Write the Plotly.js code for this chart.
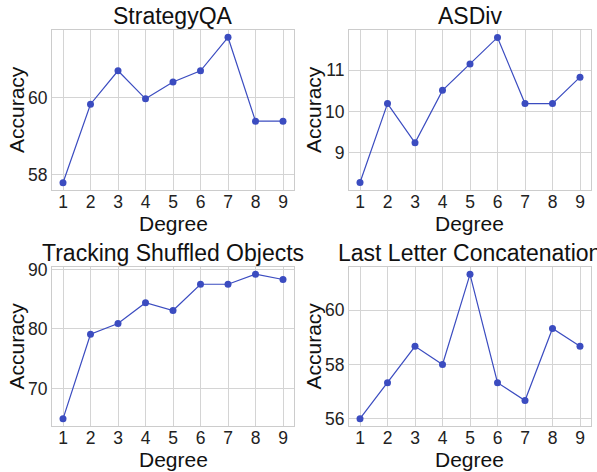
<!DOCTYPE html>
<html>
<head>
<meta charset="utf-8">
<script src="https://cdn.plot.ly/plotly-3.0.1.min.js"></script>
<style>
  html, body { margin: 0; padding: 0; background: #fff; }
  #chart { width: 597px; height: 472px; }
</style>
</head>
<body>
<div id="chart"></div>
<script>
// data
const degrees = [1, 2, 3, 4, 5, 6, 7, 8, 9];
const strategyQA = [57.79, 59.83, 60.70, 59.97, 60.41, 60.70, 61.57, 59.39, 59.39];
const asdiv = [8.28, 10.19, 9.24, 10.51, 11.15, 11.79, 10.19, 10.19, 10.83];
const tracking = [64.9, 79.1, 80.9, 84.4, 83.1, 87.5, 87.5, 89.2, 88.3];
const lastLetter = [56.0, 57.33, 58.67, 58.0, 61.33, 57.33, 56.67, 59.33, 58.67];
const panelTitles = ['StrategyQA', 'ASDiv', 'Tracking Shuffled Objects', 'Last Letter Concatenation'];
const xLabel = 'Degree';
const yLabel = 'Accuracy';

const seriesList = [strategyQA, asdiv, tracking, lastLetter];
const lineColor = '#3b4cc0';
const fontFamily = '"Liberation Sans", Arial, sans-serif';

// panel boxes in paper fractions
const W = 597, H = 472;
const xDomains = [[52 / W, 294 / W], [349 / W, 591 / W]];
const yDomains = [[(H - 190) / H, (H - 30) / H], [(H - 426) / H, (H - 267) / H]];
const yRanges = [[57.60, 61.76], [8.10, 11.97], [63.7, 90.4], [55.73, 61.6]];
const yDticks = [2, 1, 10, 2];

const traces = [];
const annotations = [];
const layout = {
    width: W, height: H,
    margin: { t: 0, b: 0, l: 0, r: 0 },
    paper_bgcolor: '#fff',
    plot_bgcolor: '#fff',
    showlegend: false,
    font: { family: fontFamily, color: '#222', size: 17.5 }
};

seriesList.forEach((vals, i) => {
    const n = i + 1;
    const col = i % 2, row = Math.floor(i / 2);
    const xa = 'xaxis' + (n === 1 ? '' : n);
    const ya = 'yaxis' + (n === 1 ? '' : n);
    traces.push({
        x: degrees, y: vals,
        xaxis: 'x' + (n === 1 ? '' : n), yaxis: 'y' + (n === 1 ? '' : n),
        type: 'scatter', mode: 'lines+markers',
        line: { color: lineColor, width: 1.2 },
        marker: { color: lineColor, size: 7 }
    });
    const axisCommon = {
        showline: true, mirror: true, linecolor: '#cccccc', linewidth: 1,
        showgrid: true, gridcolor: '#d4d4d4', gridwidth: 1,
        zeroline: false, ticks: '', fixedrange: true,
        tickfont: { size: 17.5, color: '#222' }
    };
    layout[xa] = Object.assign({}, axisCommon, {
        domain: xDomains[col], anchor: 'y' + (n === 1 ? '' : n),
        range: [0.6, 9.4], tickmode: 'linear', tick0: 1, dtick: 1,
        ticklabelstandoff: -4
    });
    layout[ya] = Object.assign({}, axisCommon, {
        domain: yDomains[row], anchor: 'x' + (n === 1 ? '' : n),
        range: yRanges[i], tickmode: 'linear', tick0: 0, dtick: yDticks[i],
        ticklabelstandoff: 0
    });
    const xCenter = (xDomains[col][0] + xDomains[col][1]) / 2;
    const yCenter = (yDomains[row][0] + yDomains[row][1]) / 2;
    // subplot title
    annotations.push({
        text: panelTitles[i], xref: 'paper', yref: 'paper',
        x: xCenter, y: yDomains[row][1], xanchor: 'center', yanchor: 'bottom',
        yshift: -1, showarrow: false, font: { size: 23, color: '#111' }
    });
    // x axis label
    annotations.push({
        text: xLabel, xref: 'paper', yref: 'paper',
        x: xCenter, y: yDomains[row][0], xanchor: 'center', yanchor: 'top',
        yshift: -20, showarrow: false, font: { size: 21, color: '#111' }
    });
    // y axis label
    annotations.push({
        text: yLabel, xref: 'paper', yref: 'paper',
        x: xDomains[col][0], y: yCenter, xanchor: 'center', yanchor: 'middle',
        xshift: -36, textangle: -90, showarrow: false, font: { size: 21, color: '#111' }
    });
});

layout.annotations = annotations;
Plotly.newPlot('chart', traces, layout, { displayModeBar: false, staticPlot: true });
</script>
</body>
</html>
